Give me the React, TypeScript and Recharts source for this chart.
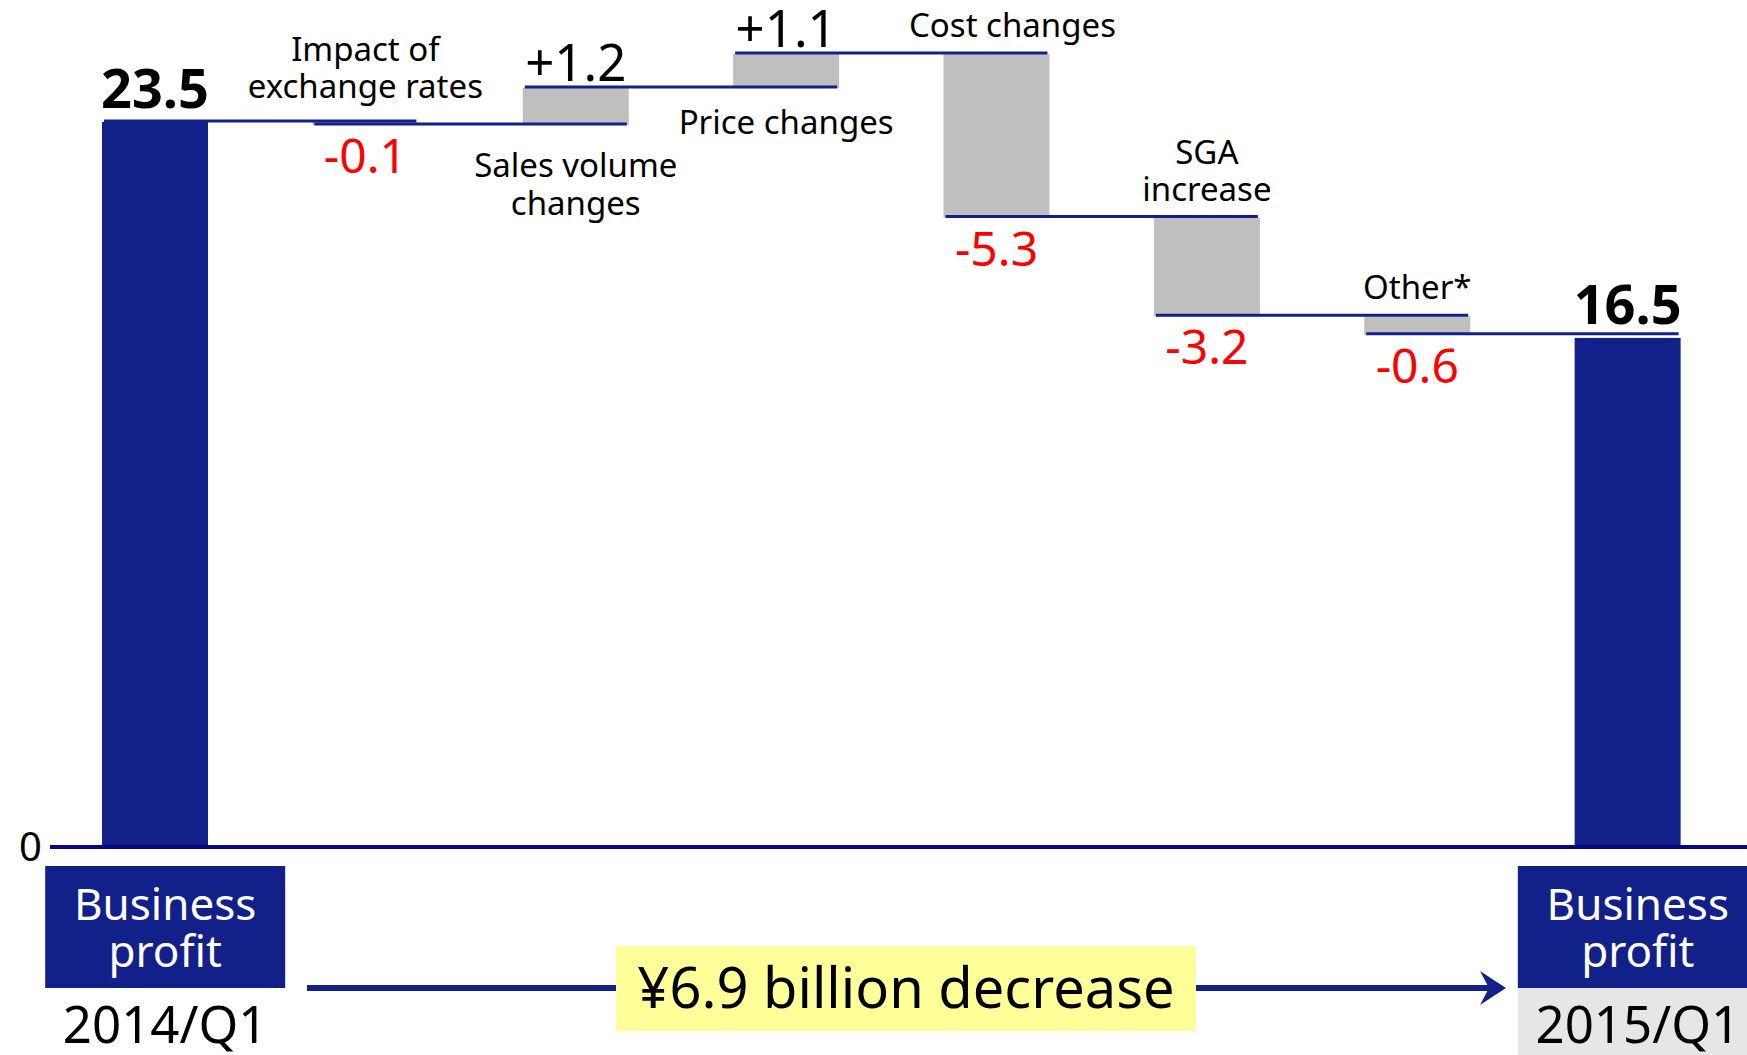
import React from 'react';
import { ComposedChart, Bar, XAxis, YAxis, LabelList } from 'recharts';

const categories = ['2014/Q1', 'Impact of exchange rates', 'Sales volume changes', 'Price changes', 'Cost changes', 'SGA increase', 'Other*', '2015/Q1'];
const nameLines = [[], ['Impact of', 'exchange rates'], ['Sales volume', 'changes'], ['Price changes'], ['Cost changes'], ['SGA', 'increase'], ['Other*'], []];
const nameDx = [0, 0, 0, 0, 16, 0, 0, 0];
const nameDy = [0, -7, 6, 0, 0, 0, 0, 0];
const deltas = [23.5, -0.1, 1.2, 1.1, -5.3, -3.2, -0.6, 16.5];
const isTotal = [true, false, false, false, false, false, false, true];
const valueLabels = ['23.5', '-0.1', '+1.2', '+1.1', '-5.3', '-3.2', '-0.6', '16.5'];
const boxLines = ['Business', 'profit'];
const summaryText = '¥6.9 billion decrease';

const W = 1747;
const H = 1055;
const MARGIN = { top: 14, right: 0, bottom: 178, left: 0 };
const Y_W = 50;
const PAD_R = 14;
const BAND = (W - Y_W - PAD_R) / categories.length;

const NAVY = '#12208a';
const FONT = '"Noto Sans", sans-serif';

// waterfall ranges from the deltas
let running = 0;
const data = categories.map((name, i) => {
  let low: number, high: number;
  if (isTotal[i]) {
    low = 0;
    high = deltas[i];
    running = deltas[i];
  } else {
    const start = running;
    running = start + deltas[i];
    low = Math.min(start, running);
    high = Math.max(start, running);
  }
  return { name, range: [low, high] };
});

function BarShape(props: any) {
  const { x, y, width, height, index } = props;
  const top = Math.min(y, y + height);
  const h = Math.abs(height);
  return <rect x={x} y={top} width={width} height={h} fill={isTotal[index] ? NAVY : '#bfbfbf'} />;
}

function Annotations(props: any) {
  const vb = props.viewBox && props.viewBox.width != null ? props.viewBox : props;
  const { x, y, width, height } = vb;
  const i = props.index;
  const top = Math.min(y, y + height);
  const bottom = Math.max(y, y + height);
  const cx = x + width / 2;
  const down = !isTotal[i] && deltas[i] < 0;
  const endY = down ? bottom : top;
  const lines = nameLines[i];
  return (
    <g fontFamily={FONT}>
      {i < categories.length - 1 && (
        <line x1={x + 2} x2={x + width + BAND - 2} y1={endY - 1} y2={endY - 1} stroke={NAVY} strokeWidth={3} />
      )}
      {isTotal[i] ? (
        <text x={cx} y={top - 14} textAnchor="middle" fontSize={54} fontWeight="bold" fill="#000">{valueLabels[i]}</text>
      ) : down ? (
        <text x={cx} y={bottom + 48} textAnchor="middle" fontSize={48} fill="#ff0000">{valueLabels[i]}</text>
      ) : (
        <text x={cx} y={top - 7} textAnchor="middle" fontSize={51} fill="#000">{valueLabels[i]}</text>
      )}
      {lines.map((t, k) => {
        const ly = down ? top - 17 - (lines.length - 1 - k) * 37 : bottom + 46 + k * 38;
        return (
          <text key={k} x={cx + nameDx[i]} y={ly + nameDy[i]} textAnchor="middle" fontSize={33} fill="#000">{t}</text>
        );
      })}
    </g>
  );
}

function BottomTick(props: any) {
  const { x, y, index } = props;
  if (index !== 0 && index !== categories.length - 1) return <g />;
  const last = index === categories.length - 1;
  const bx = x - 110;
  const bw = Math.min(240, W - bx);
  const tx = x + 10;
  return (
    <g fontFamily={FONT}>
      <rect x={bx} y={y + 19} width={bw} height={122} fill={NAVY} />
      {last && <rect x={bx} y={y + 141} width={bw} height={80} fill="#e6e6e6" />}
      {boxLines.map((t, k) => (
        <text key={k} x={tx} y={y + 73 + k * 47} textAnchor="middle" fontSize={44} fill="#fff">{t}</text>
      ))}
      <text x={tx} y={y + 196} textAnchor="middle" fontSize={51} fill="#000">{categories[index]}</text>
    </g>
  );
}

function ZeroTick(props: any) {
  const { x, y, payload } = props;
  return (
    <text x={x} y={y + 14} textAnchor="end" fontSize={40} fontFamily={FONT} fill="#000">{payload.value}</text>
  );
}

export default function App() {
  return (
    <div style={{ position: 'relative', width: W, height: H, background: '#fff' }}>
      <style>{'body{margin:0}'}</style>
      <ComposedChart width={W} height={H} data={data} margin={MARGIN}>
        <YAxis width={Y_W} domain={[0, 27]} ticks={[0]} tickLine={false} axisLine={false} tickSize={0} tickMargin={8} tick={<ZeroTick />} />
        <XAxis
          dataKey="name"
          height={30}
          interval={0}
          padding={{ left: 0, right: PAD_R }}
          axisLine={{ stroke: '#08087f', strokeWidth: 4 }}
          tickLine={false}
          tickSize={0}
          tickMargin={0}
          tick={<BottomTick />}
        />
        <Bar dataKey="range" barSize={106} shape={<BarShape />} isAnimationActive={false}>
          <LabelList dataKey="range" content={<Annotations />} />
        </Bar>
      </ComposedChart>
      <svg width={W} height={H} style={{ position: 'absolute', left: 0, top: 0, pointerEvents: 'none' }}>
        <line x1={307} x2={1494} y1={988} y2={988} stroke={NAVY} strokeWidth={6} />
        <polygon points="1506,988 1480,971 1489,988 1480,1005" fill={NAVY} />
        <rect x={616} y={946} width={580} height={85} fill="#ffff99" />
        <text x={906} y={1008} textAnchor="middle" fontSize={56} fontFamily={FONT} fill="#000">{summaryText}</text>
      </svg>
    </div>
  );
}
